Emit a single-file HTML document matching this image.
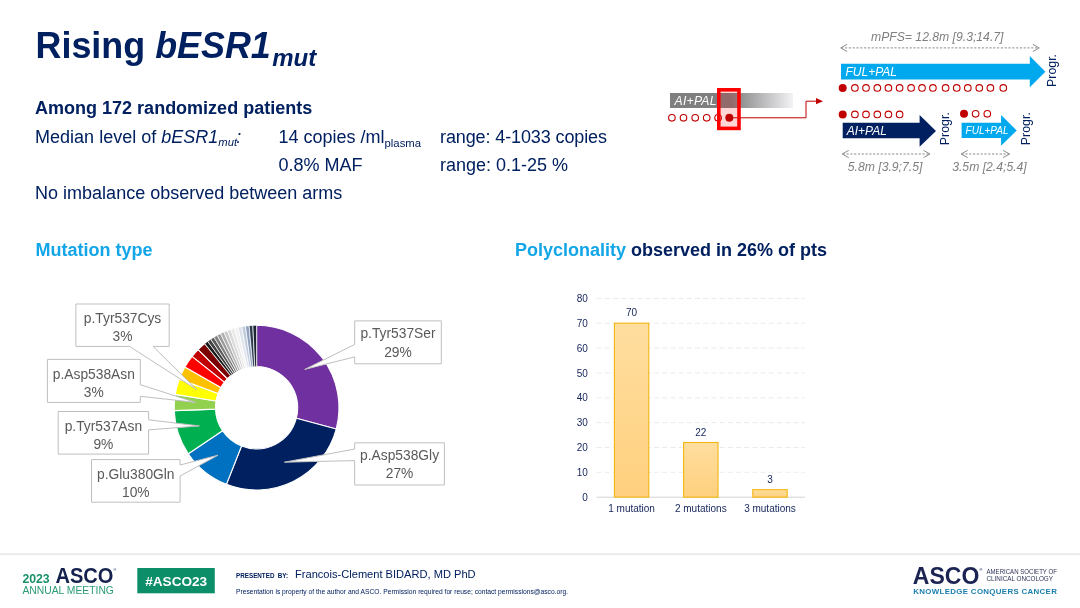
<!DOCTYPE html>
<html><head><meta charset="utf-8"><title>Rising bESR1mut</title>
<style>
html,body{margin:0;padding:0;background:#fff;}
body{width:1080px;height:608px;overflow:hidden;position:relative;font-family:"Liberation Sans",sans-serif;}
svg{position:absolute;left:0;top:0;display:block}
text{font-family:"Liberation Sans",sans-serif}
.navy{fill:#002060}
.lb{fill:#12a6e8}
.gi{fill:#7f7f7f;font-style:italic;font-size:12.2px}
.wi{fill:#fff;font-style:italic}
.cal{fill:#595959;font-size:13.8px;text-anchor:middle}
.ax{fill:#14245a;font-size:10px}
.oc{fill:#fff;stroke:#c00000;stroke-width:1.1}
.fc{fill:#c00000}
.da{stroke:#8c8c8c;stroke-width:1;fill:none}
</style></head><body>
<svg width="1080" height="608" viewBox="0 0 1080 608">
<defs>
<linearGradient id="gfade" x1="0" x2="1" y1="0" y2="0"><stop offset="0" stop-color="#7f7f7f"/><stop offset="0.5" stop-color="#7f7f80"/><stop offset="1" stop-color="#f3f3f6"/></linearGradient>
<linearGradient id="gbar" x1="0" x2="0" y1="0" y2="1"><stop offset="0" stop-color="#ffde9f"/><stop offset="1" stop-color="#ffd07e"/></linearGradient>
</defs>

<text x="35.5" y="58" transform="matrix(1 0 0 1.015 0 -0.87)" class="navy" font-size="35.9" font-weight="bold">Rising <tspan font-style="italic">bESR1</tspan><tspan font-style="italic" font-size="24" dx="1.4" dy="7.7">mut</tspan></text>
<text x="35.1" y="114" class="navy" font-size="18" font-weight="bold">Among 172 randomized patients</text>
<text x="35.1" y="142.5" class="navy" font-size="18">Median level of <tspan font-style="italic">bESR1</tspan><tspan font-style="italic" font-size="11.3" dy="3.5">mut</tspan><tspan dy="-3.5" dx="-0.8" font-style="italic">:</tspan></text>
<text x="278.5" y="142.5" class="navy" font-size="18">14 copies /ml<tspan font-size="11.3" dy="4">plasma</tspan></text>
<text x="440" y="142.5" class="navy" font-size="18" textLength="167" lengthAdjust="spacing">range: 4-1033 copies</text>
<text x="278.5" y="170.6" class="navy" font-size="18">0.8% MAF</text>
<text x="440" y="170.6" class="navy" font-size="18">range: 0.1-25 %</text>
<text x="35.1" y="198.6" class="navy" font-size="18">No imbalance observed between arms</text>
<text x="35.5" y="256.4" class="lb" font-size="18" font-weight="bold">Mutation type</text>
<text x="515" y="256.4" class="lb" font-size="18" font-weight="bold">Polyclonality <tspan class="navy">observed in 26% of pts</tspan></text>
<rect x="670" y="93" width="123" height="15" fill="url(#gfade)"/>
<text x="674.5" y="105.3" class="wi" font-size="12.2" letter-spacing="0.25">AI+PAL</text>
<circle cx="671.9" cy="117.8" r="3.3" class="oc"/>
<circle cx="683.5" cy="117.8" r="3.3" class="oc"/>
<circle cx="695.2" cy="117.8" r="3.3" class="oc"/>
<circle cx="706.7" cy="117.8" r="3.3" class="oc"/>
<circle cx="718.1" cy="117.8" r="3.3" class="oc"/>
<path d="M729 117.8 H806 V101.2 H817" fill="none" stroke="#c00000" stroke-width="1"/>
<path d="M816 98.1 L823 101.2 L816 104.3 Z" fill="#c00000"/>
<rect x="718.8" y="89.8" width="20.2" height="38.6" fill="#ff0000" fill-opacity="0.16" stroke="#ff0000" stroke-width="3.6"/>
<circle cx="729.3" cy="117.8" r="4" class="fc"/>
<text x="871" y="40.5" class="gi">mPFS= 12.8m [9.3;14.7]</text>
<path d="M841.2 47.9 H1038.8" class="da" stroke-dasharray="2.2 1.6"/>
<path d="M847.2 44.3 L840.7 47.9 L847.2 51.5" class="da"/>
<path d="M1032.8 44.3 L1039.3 47.9 L1032.8 51.5" class="da"/>
<path d="M841 63.8 H1029.8 V56.1 L1045.4 71.65 L1029.8 87.2 V79.6 H841 Z" fill="#00a9ee"/>
<text x="845.5" y="76.1" class="wi" font-size="12">FUL+PAL</text>
<text transform="translate(1056.3 87) rotate(-90)" class="navy" font-size="12.4">Progr.</text>
<circle cx="842.7" cy="87.9" r="4" class="fc"/>
<circle cx="854.9" cy="87.9" r="3.3" class="oc"/>
<circle cx="866" cy="87.9" r="3.3" class="oc"/>
<circle cx="877.3" cy="87.9" r="3.3" class="oc"/>
<circle cx="888.4" cy="87.9" r="3.3" class="oc"/>
<circle cx="899.6" cy="87.9" r="3.3" class="oc"/>
<circle cx="911.1" cy="87.9" r="3.3" class="oc"/>
<circle cx="922" cy="87.9" r="3.3" class="oc"/>
<circle cx="932.9" cy="87.9" r="3.3" class="oc"/>
<circle cx="945.6" cy="87.9" r="3.3" class="oc"/>
<circle cx="956.7" cy="87.9" r="3.3" class="oc"/>
<circle cx="967.8" cy="87.9" r="3.3" class="oc"/>
<circle cx="979.3" cy="87.9" r="3.3" class="oc"/>
<circle cx="990.4" cy="87.9" r="3.3" class="oc"/>
<circle cx="1003.3" cy="87.9" r="3.3" class="oc"/>
<circle cx="842.7" cy="114.4" r="4" class="fc"/>
<circle cx="854.9" cy="114.4" r="3.3" class="oc"/>
<circle cx="866" cy="114.4" r="3.3" class="oc"/>
<circle cx="877.3" cy="114.4" r="3.3" class="oc"/>
<circle cx="888.4" cy="114.4" r="3.3" class="oc"/>
<circle cx="899.6" cy="114.4" r="3.3" class="oc"/>
<path d="M842.7 122.7 H919.6 V115.1 L936 130.89999999999998 L919.6 146.7 V138.2 H842.7 Z" fill="#002060"/>
<text x="846.7" y="135.1" class="wi" font-size="12">AI+PAL</text>
<text transform="translate(948.7 145.2) rotate(-90)" class="navy" font-size="12.4">Progr.</text>
<circle cx="964" cy="113.8" r="4" class="fc"/>
<circle cx="975.6" cy="113.8" r="3.3" class="oc"/>
<circle cx="987.3" cy="113.8" r="3.3" class="oc"/>
<path d="M961.6 122.8 H1001.1 V115.1 L1016.7 130.45 L1001.1 145.8 V137.9 H961.6 Z" fill="#00a9ee"/>
<text x="965.6" y="133.5" class="wi" font-size="10">FUL+PAL</text>
<text transform="translate(1029.9 145.2) rotate(-90)" class="navy" font-size="12.4">Progr.</text>
<path d="M842.7 154 H929.5" class="da" stroke-dasharray="2.2 1.6"/>
<path d="M848.7 150.4 L842.2 154 L848.7 157.6" class="da"/>
<path d="M923.5 150.4 L930 154 L923.5 157.6" class="da"/>
<path d="M961.6 154 H1009.1" class="da" stroke-dasharray="2.2 1.6"/>
<path d="M967.6 150.4 L961.1 154 L967.6 157.6" class="da"/>
<path d="M1003.1 150.4 L1009.6 154 L1003.1 157.6" class="da"/>
<text x="847.8" y="170.7" class="gi">5.8m [3.9;7.5]</text>
<text x="952.2" y="170.7" class="gi">3.5m [2.4;5.4]</text>
<path d="M256.60 325.30 A82.4 82.4 0 0 1 336.19 429.03 L296.30 418.34 A41.1 41.1 0 0 0 256.60 366.60 Z" fill="#7030a0" stroke="#fff" stroke-width="1.1" stroke-linejoin="round"/>
<path d="M336.19 429.03 A82.4 82.4 0 0 1 226.40 484.37 L241.54 445.94 A41.1 41.1 0 0 0 296.30 418.34 Z" fill="#002060" stroke="#fff" stroke-width="1.1" stroke-linejoin="round"/>
<path d="M226.40 484.37 A82.4 82.4 0 0 1 188.29 453.78 L222.53 430.68 A41.1 41.1 0 0 0 241.54 445.94 Z" fill="#0070c0" stroke="#fff" stroke-width="1.1" stroke-linejoin="round"/>
<path d="M188.29 453.78 A82.4 82.4 0 0 1 174.25 410.58 L215.53 409.13 A41.1 41.1 0 0 0 222.53 430.68 Z" fill="#00b050" stroke="#fff" stroke-width="1.1" stroke-linejoin="round"/>
<path d="M174.25 410.58 A82.4 82.4 0 0 1 175.28 394.38 L216.04 401.06 A41.1 41.1 0 0 0 215.53 409.13 Z" fill="#92d050" stroke="#fff" stroke-width="1.1" stroke-linejoin="round"/>
<path d="M175.28 394.38 A82.4 82.4 0 0 1 179.32 379.11 L218.05 393.44 A41.1 41.1 0 0 0 216.04 401.06 Z" fill="#ffff00" stroke="#fff" stroke-width="1.1" stroke-linejoin="round"/>
<path d="M179.32 379.11 A82.4 82.4 0 0 1 184.95 367.00 L220.86 387.40 A41.1 41.1 0 0 0 218.05 393.44 Z" fill="#ffc000" stroke="#fff" stroke-width="1.1" stroke-linejoin="round"/>
<path d="M184.95 367.00 A82.4 82.4 0 0 1 192.11 356.40 L224.43 382.11 A41.1 41.1 0 0 0 220.86 387.40 Z" fill="#ff0000" stroke="#fff" stroke-width="1.1" stroke-linejoin="round"/>
<path d="M192.11 356.40 A82.4 82.4 0 0 1 198.13 349.64 L227.44 378.74 A41.1 41.1 0 0 0 224.43 382.11 Z" fill="#c00000" stroke="#fff" stroke-width="1.1" stroke-linejoin="round"/>
<path d="M198.13 349.64 A82.4 82.4 0 0 1 204.74 343.66 L230.73 375.76 A41.1 41.1 0 0 0 227.44 378.74 Z" fill="#7b0000" stroke="#fff" stroke-width="1.1" stroke-linejoin="round"/>
<path d="M204.74 343.66 A82.4 82.4 0 0 1 207.70 341.38 L232.21 374.62 A41.1 41.1 0 0 0 230.73 375.76 Z" fill="#1a1a1a" stroke="#fff" stroke-width="0.7" stroke-linejoin="round"/>
<path d="M207.70 341.38 A82.4 82.4 0 0 1 210.76 339.23 L233.74 373.55 A41.1 41.1 0 0 0 232.21 374.62 Z" fill="#404040" stroke="#fff" stroke-width="0.7" stroke-linejoin="round"/>
<path d="M210.76 339.23 A82.4 82.4 0 0 1 213.91 337.22 L235.31 372.54 A41.1 41.1 0 0 0 233.74 373.55 Z" fill="#595959" stroke="#fff" stroke-width="0.7" stroke-linejoin="round"/>
<path d="M213.91 337.22 A82.4 82.4 0 0 1 217.16 335.35 L236.93 371.61 A41.1 41.1 0 0 0 235.31 372.54 Z" fill="#7f7f7f" stroke="#fff" stroke-width="0.7" stroke-linejoin="round"/>
<path d="M217.16 335.35 A82.4 82.4 0 0 1 220.48 333.64 L238.58 370.76 A41.1 41.1 0 0 0 236.93 371.61 Z" fill="#999999" stroke="#fff" stroke-width="0.7" stroke-linejoin="round"/>
<path d="M220.48 333.64 A82.4 82.4 0 0 1 223.88 332.08 L240.28 369.98 A41.1 41.1 0 0 0 238.58 370.76 Z" fill="#b0b0b0" stroke="#fff" stroke-width="0.7" stroke-linejoin="round"/>
<path d="M223.88 332.08 A82.4 82.4 0 0 1 227.34 330.67 L242.01 369.28 A41.1 41.1 0 0 0 240.28 369.98 Z" fill="#c8c8c8" stroke="#fff" stroke-width="0.7" stroke-linejoin="round"/>
<path d="M227.34 330.67 A82.4 82.4 0 0 1 230.86 329.42 L243.76 368.66 A41.1 41.1 0 0 0 242.01 369.28 Z" fill="#d9d9d9" stroke="#fff" stroke-width="0.7" stroke-linejoin="round"/>
<path d="M230.86 329.42 A82.4 82.4 0 0 1 234.44 328.34 L245.55 368.11 A41.1 41.1 0 0 0 243.76 368.66 Z" fill="#e8e8e8" stroke="#fff" stroke-width="0.7" stroke-linejoin="round"/>
<path d="M234.44 328.34 A82.4 82.4 0 0 1 238.06 327.41 L247.35 367.65 A41.1 41.1 0 0 0 245.55 368.11 Z" fill="#f2f2f2" stroke="#fff" stroke-width="0.7" stroke-linejoin="round"/>
<path d="M238.06 327.41 A82.4 82.4 0 0 1 241.73 326.65 L249.18 367.28 A41.1 41.1 0 0 0 247.35 367.65 Z" fill="#dde3ec" stroke="#fff" stroke-width="0.7" stroke-linejoin="round"/>
<path d="M241.73 326.65 A82.4 82.4 0 0 1 245.42 326.06 L251.02 366.98 A41.1 41.1 0 0 0 249.18 367.28 Z" fill="#c0cbdc" stroke="#fff" stroke-width="0.7" stroke-linejoin="round"/>
<path d="M245.42 326.06 A82.4 82.4 0 0 1 249.13 325.64 L252.88 366.77 A41.1 41.1 0 0 0 251.02 366.98 Z" fill="#8fa2c0" stroke="#fff" stroke-width="0.7" stroke-linejoin="round"/>
<path d="M249.13 325.64 A82.4 82.4 0 0 1 252.86 325.38 L254.74 366.64 A41.1 41.1 0 0 0 252.88 366.77 Z" fill="#2e3a4f" stroke="#fff" stroke-width="0.7" stroke-linejoin="round"/>
<path d="M252.86 325.38 A82.4 82.4 0 0 1 256.60 325.30 L256.60 366.60 A41.1 41.1 0 0 0 254.74 366.64 Z" fill="#1c2431" stroke="#fff" stroke-width="0.7" stroke-linejoin="round"/>
<path d="M75.9 304 H169.2 V346.4 H153 L197 389.8 L129.5 346.4 H75.9 Z" fill="#fff" stroke="#bfbfbf" stroke-width="1" stroke-linejoin="miter"/>
<text x="122.55000000000001" y="323.2" class="cal">p.Tyr537Cys</text>
<text x="122.55000000000001" y="341.3" class="cal">3%</text>
<path d="M47.4 359.4 H140.3 V384.7 L195.6 402.4 L140.3 396.3 V402.4 H47.4 Z" fill="#fff" stroke="#bfbfbf" stroke-width="1" stroke-linejoin="miter"/>
<text x="93.85" y="378.9" class="cal">p.Asp538Asn</text>
<text x="93.85" y="397.0" class="cal">3%</text>
<path d="M58.2 411.5 H148.60000000000002 V419.8 L199.3 425.9 L148.60000000000002 429.9 V454.1 H58.2 Z" fill="#fff" stroke="#bfbfbf" stroke-width="1" stroke-linejoin="miter"/>
<text x="103.4" y="430.8" class="cal">p.Tyr537Asn</text>
<text x="103.4" y="448.90000000000003" class="cal">9%</text>
<path d="M91.5 459.6 H180.1 V465 L218 455.2 L180.1 476 V502.20000000000005 H91.5 Z" fill="#fff" stroke="#bfbfbf" stroke-width="1" stroke-linejoin="miter"/>
<text x="135.8" y="478.90000000000003" class="cal">p.Glu380Gln</text>
<text x="135.8" y="497.00000000000006" class="cal">10%</text>
<path d="M354.7 320.9 H441.29999999999995 V363.79999999999995 H354.7 V356.9 L304.7 369.4 L354.7 344.4 Z" fill="#fff" stroke="#bfbfbf" stroke-width="1" stroke-linejoin="miter"/>
<text x="398.0" y="338.45" class="cal">p.Tyr537Ser</text>
<text x="398.0" y="356.55" class="cal">29%</text>
<path d="M354.7 442.8 H444.4 V485.0 H354.7 V460.6 L284.4 462.2 L354.7 449 Z" fill="#fff" stroke="#bfbfbf" stroke-width="1" stroke-linejoin="miter"/>
<text x="399.55" y="460.00000000000006" class="cal">p.Asp538Gly</text>
<text x="399.55" y="478.1000000000001" class="cal">27%</text>
<path d="M596.6 472.3 H805" stroke="#ebebeb" stroke-width="1" stroke-dasharray="5 3.2" fill="none"/>
<path d="M596.6 447.5 H805" stroke="#ebebeb" stroke-width="1" stroke-dasharray="5 3.2" fill="none"/>
<path d="M596.6 422.6 H805" stroke="#ebebeb" stroke-width="1" stroke-dasharray="5 3.2" fill="none"/>
<path d="M596.6 397.8 H805" stroke="#ebebeb" stroke-width="1" stroke-dasharray="5 3.2" fill="none"/>
<path d="M596.6 372.9 H805" stroke="#ebebeb" stroke-width="1" stroke-dasharray="5 3.2" fill="none"/>
<path d="M596.6 348.1 H805" stroke="#ebebeb" stroke-width="1" stroke-dasharray="5 3.2" fill="none"/>
<path d="M596.6 323.2 H805" stroke="#ebebeb" stroke-width="1" stroke-dasharray="5 3.2" fill="none"/>
<path d="M596.6 298.4 H805" stroke="#ebebeb" stroke-width="1" stroke-dasharray="5 3.2" fill="none"/>
<path d="M596.6 497.2 H805" stroke="#d4d4d4" stroke-width="1" fill="none"/>
<text x="587.8" y="500.8" class="ax" text-anchor="end">0</text>
<text x="587.8" y="475.9" class="ax" text-anchor="end">10</text>
<text x="587.8" y="451.1" class="ax" text-anchor="end">20</text>
<text x="587.8" y="426.2" class="ax" text-anchor="end">30</text>
<text x="587.8" y="401.4" class="ax" text-anchor="end">40</text>
<text x="587.8" y="376.6" class="ax" text-anchor="end">50</text>
<text x="587.8" y="351.7" class="ax" text-anchor="end">60</text>
<text x="587.8" y="326.9" class="ax" text-anchor="end">70</text>
<text x="587.8" y="302.0" class="ax" text-anchor="end">80</text>
<rect x="614.4" y="323.2" width="34.4" height="173.9" fill="url(#gbar)" stroke="#f3b60f" stroke-width="1.1"/>
<text x="631.6" y="316.2" class="ax" text-anchor="middle">70</text>
<text x="631.6" y="512.4" class="ax" text-anchor="middle">1 mutation</text>
<rect x="683.6" y="442.5" width="34.4" height="54.7" fill="url(#gbar)" stroke="#f3b60f" stroke-width="1.1"/>
<text x="700.8000000000001" y="435.5" class="ax" text-anchor="middle">22</text>
<text x="700.8000000000001" y="512.4" class="ax" text-anchor="middle">2 mutations</text>
<rect x="752.8" y="489.7" width="34.4" height="7.5" fill="url(#gbar)" stroke="#f3b60f" stroke-width="1.1"/>
<text x="770.0" y="482.7" class="ax" text-anchor="middle">3</text>
<text x="770.0" y="512.4" class="ax" text-anchor="middle">3 mutations</text>
<path d="M0 554.2 H1080" stroke="#dfe3e6" stroke-width="1.2"/>
<text x="22.4" y="583" fill="#1a9068" font-size="13" font-weight="bold" textLength="27.3" lengthAdjust="spacingAndGlyphs">2023</text>
<text x="55.4" y="583" fill="#14204e" font-size="21.2" font-weight="bold" textLength="58" lengthAdjust="spacingAndGlyphs">ASCO</text>
<text x="113.3" y="570.5" class="navy" font-size="4">®</text>
<text x="22.4" y="593.8" fill="#2a9a75" font-size="10.6" textLength="91.5" lengthAdjust="spacingAndGlyphs">ANNUAL MEETING</text>
<rect x="137.3" y="568" width="77.5" height="25.3" fill="#0c8f68"/>
<text x="176.2" y="585.6" fill="#fff" font-size="13.6" font-weight="bold" text-anchor="middle">#ASCO23</text>
<text x="236" y="577.6" class="navy" font-size="6.6" font-weight="bold" textLength="52" lengthAdjust="spacingAndGlyphs">PRESENTED <tspan dx="1.5">BY:</tspan></text>
<text x="295" y="578" class="navy" font-size="11.1">Francois-Clement BIDARD, MD PhD</text>
<text x="236" y="593.5" class="navy" font-size="6.7">Presentation is property of the author and ASCO. Permission required for reuse; contact permissions@asco.org.</text>
<text x="912.8" y="583.8" fill="#1b2452" font-size="23.2" font-weight="bold" textLength="66.5" lengthAdjust="spacingAndGlyphs">ASCO</text>
<text x="979.3" y="570.6" fill="#1b2452" font-size="4.2" font-weight="bold">®</text>
<text x="986.5" y="574" fill="#2f3558" font-size="6.8" textLength="70.4" lengthAdjust="spacingAndGlyphs">AMERICAN SOCIETY OF</text>
<text x="986.5" y="581" fill="#2f3558" font-size="6.8" textLength="66.5" lengthAdjust="spacingAndGlyphs">CLINICAL ONCOLOGY</text>
<text x="913.3" y="594.3" fill="#1b7fb0" font-size="7.9" font-weight="bold" textLength="143.6" lengthAdjust="spacing">KNOWLEDGE CONQUERS CANCER</text>
</svg></body></html>
